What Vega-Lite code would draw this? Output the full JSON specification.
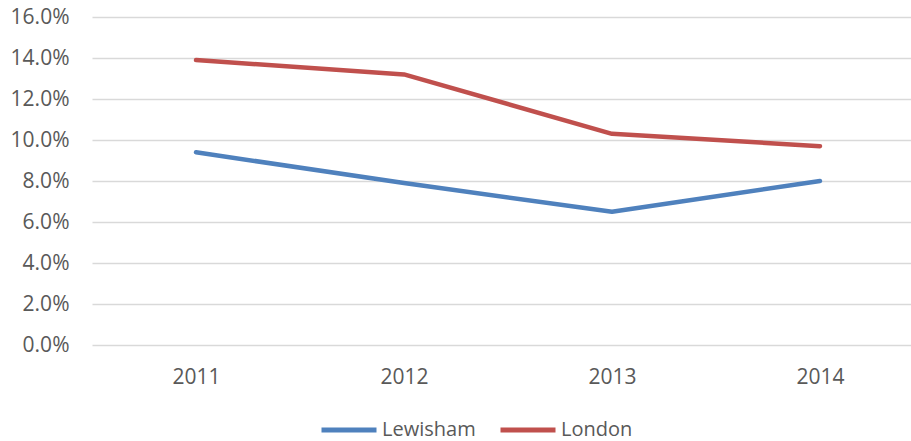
{
  "$schema": "https://vega.github.io/schema/vega-lite/v6.json",
  "width": 819,
  "height": 328,
  "autosize": "none",
  "padding": {"left": 92, "top": 17, "right": 0, "bottom": 96},
  "background": "white",
  "data": {"values": [
    {"year": 2011, "area": "Lewisham", "value": 0.094},
    {"year": 2012, "area": "Lewisham", "value": 0.079},
    {"year": 2013, "area": "Lewisham", "value": 0.065},
    {"year": 2014, "area": "Lewisham", "value": 0.080},
    {"year": 2011, "area": "London", "value": 0.139},
    {"year": 2012, "area": "London", "value": 0.132},
    {"year": 2013, "area": "London", "value": 0.103},
    {"year": 2014, "area": "London", "value": 0.097}
  ]},
  "mark": {"type": "line", "strokeWidth": 4.5, "strokeCap": "round", "strokeJoin": "round"},
  "encoding": {
    "x": {"field": "year", "type": "quantitative",
      "scale": {"domain": [2010.5, 2014.4375], "nice": false, "zero": false},
      "axis": {"values": [2011, 2012, 2013, 2014], "format": "d", "title": null, "grid": false, "ticks": false, "domain": false,
        "labelFont": "Open Sans", "labelFontSize": 21, "labelColor": "#595959", "labelPadding": 21}},
    "y": {"field": "value", "type": "quantitative",
      "scale": {"domain": [0, 0.16], "nice": false},
      "axis": {"values": [0, 0.02, 0.04, 0.06, 0.08, 0.10, 0.12, 0.14, 0.16], "format": ".1%", "title": null, "ticks": false, "domain": false,
        "gridColor": "#D9D9D9", "gridWidth": 1.5,
        "labelFont": "Open Sans", "labelFontSize": 21, "labelColor": "#595959", "labelPadding": 23}},
    "color": {"field": "area", "type": "nominal",
      "scale": {"domain": ["Lewisham", "London"], "range": ["#4F81BD", "#C0504D"]},
      "legend": {"orient": "none", "legendX": 227, "legendY": 383, "direction": "horizontal", "title": null,
        "symbolType": "stroke", "symbolSize": 3025, "symbolStrokeWidth": 5,
        "labelFont": "Open Sans", "labelFontSize": 20, "labelColor": "#595959", "labelOffset": 3, "columnPadding": 14}}
  },
  "config": {"view": {"stroke": null}}
}
